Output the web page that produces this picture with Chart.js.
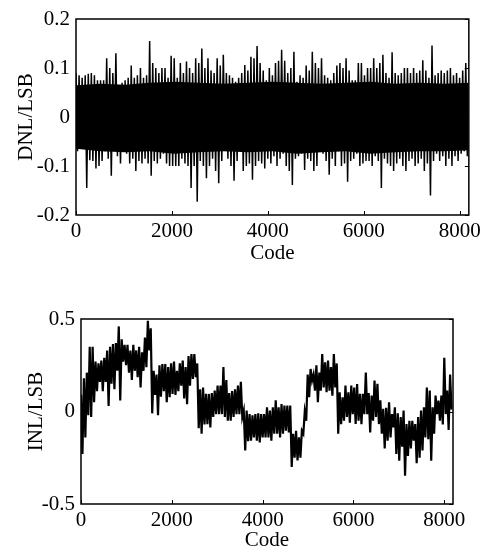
<!DOCTYPE html>
<html>
<head>
<meta charset="utf-8">
<script src="https://cdn.jsdelivr.net/npm/chart.js@4/dist/chart.umd.min.js"></script>
<style>
  html, body { margin: 0; padding: 0; background: #fff; }
  #wrap { position: relative; width: 485px; height: 549px; }
  canvas { position: absolute; left: 0; }
</style>
</head>
<body>
<div id="wrap">
  <canvas id="dnl" width="485" height="275" style="top:0"></canvas>
  <canvas id="inl" width="485" height="259" style="top:290px"></canvas>
</div>
<script>
// codes sampled every 64 LSB: peak (upper) then trough (lower) half a step later
const STEP = 64;
const CORE_STEP = 512;
const xTicks = [0, 2000, 4000, 6000, 8000];
const dnlTicks = [-0.2, -0.1, 0, 0.1, 0.2];
const inlTicks = [-0.5, 0, 0.5];

const dnlUpper = [
  0.09, 0.085, 0.08, 0.085, 0.088, 0.09, 0.085, 0.075, 0.075, 0.075, 0.12, 0.1, 0.09, 0.13, 0.065, 0.07,
  0.075, 0.08, 0.105, 0.08, 0.085, 0.1, 0.08, 0.085, 0.155, 0.11, 0.1, 0.09, 0.1, 0.1, 0.08, 0.125,
  0.12, 0.08, 0.11, 0.09, 0.113, 0.1, 0.09, 0.12, 0.11, 0.14, 0.1, 0.12, 0.095, 0.09, 0.12, 0.105,
  0.127, 0.09, 0.085, 0.08, 0.072, 0.08, 0.09, 0.106, 0.095, 0.123, 0.12, 0.145, 0.11, 0.095, 0.075, 0.1,
  0.085, 0.11, 0.115, 0.137, 0.115, 0.09, 0.1, 0.133, 0.072, 0.085, 0.08, 0.105, 0.095, 0.133, 0.11, 0.1,
  0.12, 0.085, 0.08, 0.075, 0.09, 0.105, 0.11, 0.1, 0.12, 0.095, 0.075, 0.075, 0.11, 0.11, 0.085, 0.1,
  0.1, 0.12, 0.1, 0.11, 0.127, 0.09, 0.08, 0.132, 0.09, 0.085, 0.09, 0.1, 0.1, 0.09, 0.1, 0.09,
  0.095, 0.116, 0.095, 0.08, 0.146, 0.085, 0.09, 0.095, 0.09, 0.095, 0.1, 0.085, 0.09, 0.08, 0.095, 0.11
];
const dnlLower = [
  -0.07, -0.065, -0.06, -0.145, -0.088, -0.09, -0.105, -0.1, -0.09, -0.07, -0.085, -0.12, -0.06, -0.08, -0.095, -0.07,
  -0.075, -0.095, -0.085, -0.11, -0.09, -0.095, -0.085, -0.095, -0.12, -0.09, -0.095, -0.085, -0.075, -0.095, -0.1, -0.1,
  -0.1, -0.1, -0.085, -0.095, -0.1, -0.145, -0.1, -0.173, -0.09, -0.1, -0.125, -0.1, -0.085, -0.11, -0.135, -0.09,
  -0.057, -0.085, -0.1, -0.13, -0.09, -0.065, -0.11, -0.1, -0.095, -0.128, -0.1, -0.09, -0.095, -0.105, -0.085, -0.095,
  -0.08, -0.1, -0.085, -0.075, -0.1, -0.11, -0.139, -0.085, -0.08, -0.075, -0.108, -0.085, -0.09, -0.11, -0.1, -0.065,
  -0.075, -0.09, -0.118, -0.085, -0.1, -0.07, -0.1, -0.095, -0.132, -0.09, -0.085, -0.075, -0.1, -0.095, -0.09, -0.09,
  -0.1, -0.08, -0.09, -0.145, -0.085, -0.095, -0.1, -0.11, -0.095, -0.085, -0.1, -0.11, -0.09, -0.085, -0.1, -0.095,
  -0.085, -0.11, -0.095, -0.16, -0.09, -0.075, -0.09, -0.08, -0.1, -0.085, -0.1, -0.08, -0.09, -0.075, -0.07, -0.08
];
// edges of the solid black core of the DNL trace, every 512 codes
const dnlCoreTop = [0.065, 0.068, 0.066, 0.07, 0.072, 0.07, 0.068, 0.07, 0.072, 0.07, 0.068, 0.07, 0.072, 0.068, 0.07, 0.068, 0.07];
const dnlCoreBottom = [-0.065, -0.07, -0.072, -0.07, -0.075, -0.072, -0.07, -0.072, -0.07, -0.075, -0.072, -0.07, -0.075, -0.072, -0.07, -0.07, -0.068];

const inlUpper = [
  0.09, 0.18, 0.21, 0.35, 0.35, 0.27, 0.26, 0.275, 0.29, 0.33, 0.35, 0.365, 0.37, 0.46, 0.39, 0.36,
  0.36, 0.33, 0.36, 0.33, 0.35, 0.32, 0.4, 0.49, 0.45, 0.22, 0.2, 0.25, 0.257, 0.257, 0.24, 0.26,
  0.27, 0.22, 0.26, 0.275, 0.24, 0.3, 0.31, 0.31, 0.26, 0.12, 0.13, 0.095, 0.095, 0.1, 0.113, 0.14,
  0.14, 0.24, 0.17, 0.1, 0.11, 0.12, 0.14, 0.16, 0.005, 0.005, -0.014, -0.02, -0.014, -0.01, -0.014, -0.014,
  0.023, 0.005, 0.023, 0.06, 0.023, 0.04, 0.032, 0.032, 0.032, -0.12, -0.104, -0.14, -0.104, 0.0, 0.2, 0.23,
  0.2, 0.25, 0.21, 0.31, 0.266, 0.275, 0.24, 0.31, 0.26, 0.104, 0.077, 0.14, 0.104, 0.14, 0.13, 0.149,
  0.095, 0.095, 0.21, 0.1, 0.086, 0.167, 0.15, 0.06, 0.014, 0.02, 0.05, -0.014, 0.023, -0.01, -0.03, 0.005,
  -0.068, -0.05, -0.05, -0.068, -0.03, 0.005, 0.023, 0.13, 0.113, 0.023, 0.086, 0.059, 0.086, 0.29, 0.113, 0.2
];
const inlLower = [
  -0.23, -0.14, -0.02, -0.03, 0.05, 0.11, 0.16, 0.11, 0.16, 0.03, 0.15, 0.12, 0.22, 0.06, 0.27, 0.25,
  0.21, 0.17, 0.22, 0.185, 0.13, 0.22, 0.24, 0.33, -0.01, 0.09, -0.02, 0.08, 0.11, 0.05, 0.077, 0.095,
  0.09, 0.11, 0.14, 0.07, 0.04, 0.14, 0.176, 0.185, -0.09, -0.12, -0.07, -0.068, -0.086, -0.03, -0.014, -0.014,
  -0.014, -0.03, -0.05, -0.05, -0.03, -0.014, -0.014, -0.03, -0.21, -0.16, -0.158, -0.14, -0.158, -0.167, -0.14, -0.14,
  -0.14, -0.158, -0.12, -0.12, -0.14, -0.12, -0.104, -0.113, -0.3, -0.25, -0.265, -0.25, -0.12, -0.05, 0.077, 0.167,
  0.113, 0.05, 0.113, 0.13, 0.104, 0.113, 0.086, 0.13, -0.12, -0.068, -0.05, -0.03, -0.06, -0.014, -0.068, -0.05,
  -0.068, -0.014, -0.014, -0.113, -0.05, -0.03, -0.068, -0.12, -0.2, -0.158, -0.14, -0.086, -0.23, -0.266, -0.19, -0.347,
  -0.24, -0.2, -0.158, -0.28, -0.25, -0.21, -0.14, -0.15, -0.266, -0.12, -0.014, -0.05, -0.07, -0.014, -0.1, 0.01
];

const FONT = "'Liberation Serif', 'Times New Roman', serif";

// peak, trough, peak, ... so the trace fills the band like the measured one
function zigzag(upper, lower) {
  const pts = [];
  upper.forEach((v, i) => {
    pts.push({ x: i * STEP, y: v });
    pts.push({ x: i * STEP + STEP / 2, y: lower[i] });
  });
  return pts;
}

function coreSet(values, fill) {
  return {
    data: values.map((v, i) => ({ x: i * CORE_STEP, y: v })),
    borderWidth: 0,
    pointRadius: 0,
    backgroundColor: '#000',
    fill: fill
  };
}

// box round the plot plus inward ticks on bottom and right
const framePlugin = {
  id: 'frame',
  afterDraw(chart) {
    const { ctx, chartArea: a, scales } = chart;
    ctx.save();
    ctx.strokeStyle = '#000';
    ctx.lineWidth = 1.5;
    ctx.strokeRect(a.left, a.top, a.right - a.left, a.bottom - a.top);
    ctx.lineWidth = 1;
    ctx.beginPath();
    scales.x.ticks.forEach(t => {
      const px = Math.round(scales.x.getPixelForValue(t.value)) + 0.5;
      ctx.moveTo(px, a.bottom);
      ctx.lineTo(px, a.bottom - 4);
    });
    scales.y.ticks.forEach(t => {
      const py = Math.round(scales.y.getPixelForValue(t.value)) + 0.5;
      ctx.moveTo(a.right, py);
      ctx.lineTo(a.right - 4, py);
    });
    ctx.stroke();
    ctx.restore();
  }
};

function createCodeChart(id, upper, lower, core, yTicks, yTitle, box) {
  const ctx = document.getElementById(id).getContext('2d');
  const datasets = [{
    data: zigzag(upper, lower),
    borderColor: '#000',
    borderWidth: box.lineWidth,
    pointRadius: 0,
    tension: 0,
    fill: false
  }];
  if (core) datasets.push(coreSet(core[0], false), coreSet(core[1], '-1'));
  return new Chart(ctx, {
    type: 'line',
    data: { datasets },
    options: {
      responsive: false,
      animation: false,
      events: [],
      layout: { padding: { top: box.top, right: box.right, left: 0, bottom: 0 } },
      plugins: { legend: { display: false }, tooltip: { enabled: false } },
      scales: {
        x: {
          type: 'linear',
          min: 0,
          max: 8192,
          afterBuildTicks: s => { s.ticks = xTicks.map(v => ({ value: v })); },
          afterFit: s => { s.height = box.xHeight; },
          grid: { display: false, drawTicks: false },
          border: { display: false },
          ticks: {
            color: '#000', padding: 4, maxRotation: 0, autoSkip: false,
            font: { family: FONT, size: 21 },
            callback: v => String(v)
          },
          title: {
            display: true, text: 'Code', color: '#000',
            font: { family: FONT, size: 21, lineHeight: 1 },
            padding: { top: 0, bottom: box.codePad }
          }
        },
        y: {
          type: 'linear',
          min: yTicks[0],
          max: yTicks[yTicks.length - 1],
          afterBuildTicks: s => { s.ticks = yTicks.map(v => ({ value: v })); },
          afterFit: s => { s.width = box.left; },
          grid: { display: false, drawTicks: false },
          border: { display: false },
          ticks: {
            color: '#000', padding: 6, autoSkip: false,
            font: { family: FONT, size: 21 },
            callback: v => String(v)
          },
          title: {
            display: true, text: yTitle, color: '#000',
            font: { family: FONT, size: 21, lineHeight: 1 },
            padding: { top: box.titlePad, bottom: 0 }
          }
        }
      }
    },
    plugins: [framePlugin]
  });
}

createCodeChart('dnl', dnlUpper, dnlLower, [dnlCoreTop, dnlCoreBottom], dnlTicks, 'DNL/LSB',
  { left: 76, top: 19, right: 16, xHeight: 60, codePad: 11, titlePad: 16, lineWidth: 1.5 });
createCodeChart('inl', inlUpper, inlLower, null, inlTicks, 'INL/LSB',
  { left: 81, top: 29, right: 32, xHeight: 45, codePad: -2, titlePad: 26, lineWidth: 2.2 });
</script>
</body>
</html>
